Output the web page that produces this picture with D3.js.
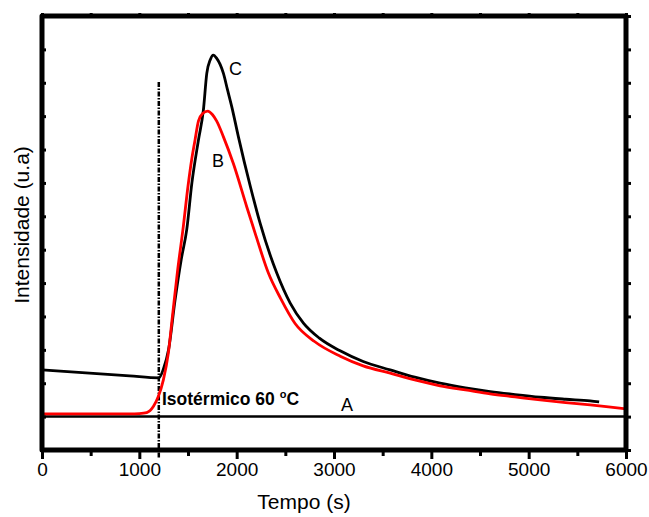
<!DOCTYPE html>
<html><head><meta charset="utf-8">
<script src="https://cdn.jsdelivr.net/npm/d3@7"></script>
<style>body{margin:0;background:#fff}svg{display:block}text{font-family:"Liberation Sans",Arial,sans-serif}</style>
</head><body><svg id="c" width="649" height="517"></svg>
<script>
// Series C (black)
const timeC = [0,300,600,900,1200,1250,1300,1367,1430,1487,1540,1607,1658,1693,1730,1760,1795,1830,1864,1905,1950,2018,2140,2240,2412,2550,2686,2850,3063,3300,3577,3830,4090,4350,4604,4860,5118,5380,5632,5724];
const intC  = [2.40,2.34,2.28,2.22,2.16,2.45,3.0,4.49,5.7,6.6,8.0,9.28,10.18,11.28,11.7,11.83,11.73,11.55,11.28,10.8,10.28,9.38,7.9,6.8,5.3,4.4,3.8,3.35,2.97,2.65,2.40,2.18,2.0,1.86,1.75,1.66,1.58,1.52,1.47,1.44];
// Series B (red)
const timeB = [0,500,900,1000,1076,1144,1195,1247,1298,1340,1390,1452,1500,1538,1572,1607,1650,1703,1750,1795,1864,1966,2104,2200,2326,2450,2600,2800,3064,3300,3577,3830,4090,4350,4604,4860,5118,5380,5632,5820,6000];
const intB  = [1.08,1.08,1.08,1.09,1.12,1.30,1.60,2.10,2.9,4.0,5.3,6.7,7.9,8.7,9.28,9.85,10.08,10.15,10.05,9.85,9.38,8.58,7.28,6.4,5.3,4.55,3.79,3.25,2.81,2.52,2.30,2.1,1.92,1.8,1.68,1.59,1.50,1.42,1.35,1.29,1.23];
// Series A (baseline)
const timeA = [0,6000];
const intA  = [1.0,1.0];
const isoTime = 1200;
const xTicks = [0,1000,2000,3000,4000,5000,6000];
const xMinor = [500,1500,2500,3500,4500,5500];
const yTicks = d3.range(0,14,1);

const svg = d3.select("#c");
const L=42,R=626,T=16,B=450;
const x = d3.scaleLinear().domain([0,6000]).range([L,R]);
const y = d3.scaleLinear().domain([0,13]).range([B,T]);

const line = d3.line().x(d=>x(d[0])).y(d=>y(d[1])).curve(d3.curveMonotoneX);
svg.append("path").datum(d3.zip(timeA,intA)).attr("d",line).attr("fill","none").attr("stroke","#000").attr("stroke-width",2.5);

svg.append("line").attr("x1",x(isoTime)).attr("x2",x(isoTime)).attr("y1",82).attr("y2",459)
  .attr("stroke","#000").attr("stroke-width",2.5).attr("stroke-dasharray","5,1.5,1.5,1.5");

svg.append("path").datum(d3.zip(timeC,intC)).attr("d",line).attr("fill","none").attr("stroke","#000").attr("stroke-width",2.8).attr("stroke-linejoin","round");
svg.append("path").datum(d3.zip(timeB,intB)).attr("d",line).attr("fill","none").attr("stroke","#f00").attr("stroke-width",2.8).attr("stroke-linejoin","round");

const gBottom = svg.append("g").attr("transform",`translate(0,${B})`)
  .call(d3.axisBottom(x).tickValues(xTicks).tickSize(9).tickPadding(4).tickFormat(d3.format("d")));
gBottom.append("g").call(d3.axisBottom(x).tickValues(xMinor).tickSize(6).tickFormat(""));
svg.append("g").attr("transform",`translate(0,${T})`)
  .call(d3.axisTop(x).tickValues(xTicks.concat(xMinor)).tickSize(3).tickFormat(""));
svg.append("g").attr("transform",`translate(${L},0)`)
  .call(d3.axisLeft(y).tickValues(yTicks).tickSize(-4).tickFormat(""));
svg.append("g").attr("transform",`translate(${R},0)`)
  .call(d3.axisRight(y).tickValues(yTicks).tickSize(5).tickFormat(""));
svg.selectAll(".domain").remove();
svg.selectAll(".tick line").attr("stroke","#000").attr("stroke-width",3);
gBottom.selectAll("text").attr("font-size",19).attr("fill","#000").attr("font-family","Liberation Sans, Arial, sans-serif");

svg.append("rect").attr("x",L).attr("y",T).attr("width",R-L).attr("height",B-T)
  .attr("fill","none").attr("stroke","#000").attr("stroke-width",5).attr("stroke-linejoin","round");

svg.append("text").attr("x",304).attr("y",509).attr("text-anchor","middle").attr("font-size",21).text("Tempo (s)");
svg.append("text").attr("transform","translate(29,225) rotate(-90)").attr("text-anchor","middle").attr("font-size",21).text("Intensidade (u.a)");

svg.append("text").attr("x",229).attr("y",75).attr("font-size",18).text("C");
svg.append("text").attr("x",212).attr("y",167).attr("font-size",18).text("B");
svg.append("text").attr("x",341).attr("y",411).attr("font-size",18).text("A");
const iso = svg.append("text").attr("x",162).attr("y",405).attr("font-size",17.5).attr("font-weight","bold");
iso.append("tspan").text("Isotérmico 60 ");
iso.append("tspan").attr("font-size",11).attr("dy",-7).text("o");
iso.append("tspan").attr("dy",7).text("C");
</script></body></html>
